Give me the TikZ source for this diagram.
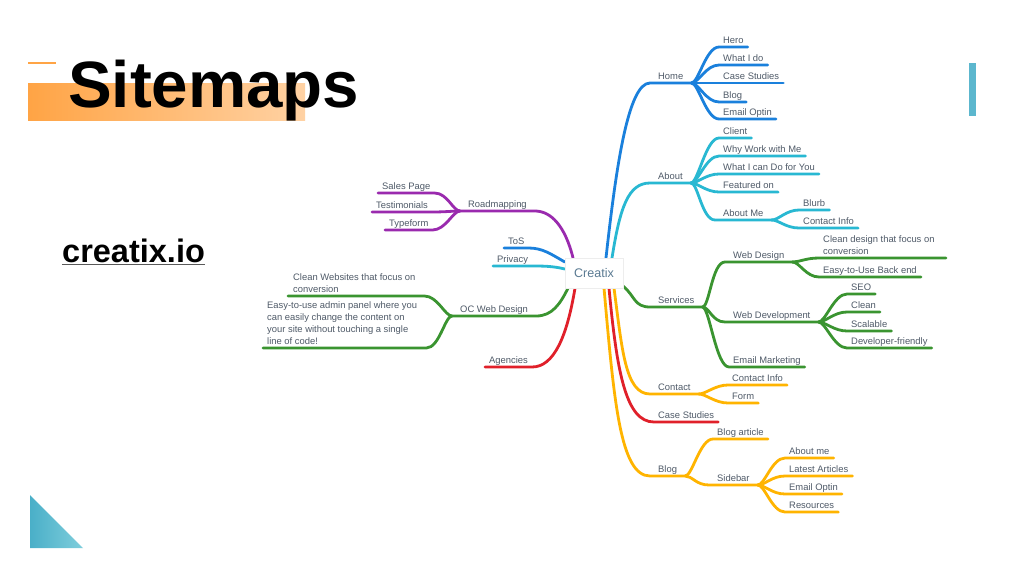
\documentclass[tikz,border=0pt]{standalone}
\usepackage{fontspec}
\setmainfont{Liberation Sans}
\usetikzlibrary{calc}
\definecolor{cblue}{HTML}{1A80DC}
\definecolor{ccyan}{HTML}{28B8D2}
\definecolor{cgreen}{HTML}{3A9430}
\definecolor{cred}{HTML}{E0202A}
\definecolor{corange}{HTML}{FFB400}
\definecolor{cpurple}{HTML}{9A2AAE}
\definecolor{labgray}{HTML}{4F5A68}
\definecolor{rootgray}{HTML}{5A7A92}
\definecolor{barA}{HTML}{FFA445}
\definecolor{barB}{HTML}{FFD2A4}
\definecolor{tealA}{HTML}{4AAFC8}
\definecolor{tealB}{HTML}{7FCEDC}
\tikzset{
  lbl/.style={font=\fontsize{9.4}{12}\selectfont, text=labgray, inner ysep=3pt, text depth=0pt, align=left},
  leaf/.style={lbl, anchor=south west, inner xsep=4pt, xshift=-4pt},
  mid/.style={lbl, anchor=south west, inner xsep=8pt, xshift=-8pt},
  conn/.style={line width=2.8pt, line cap=round},
  fanr/.style={to path={.. controls ($(\tikztostart)+(7,0)$) and ($(\tikztotarget)+(-13,0)$) .. (\tikztotarget)}},
  fanl/.style={to path={.. controls ($(\tikztostart)+(-7,0)$) and ($(\tikztotarget)+(13,0)$) .. (\tikztotarget)}},
  rootbox/.style={draw=black!7, fill=white, minimum width=58pt, minimum height=30pt, inner sep=0pt, font=\fontsize{12.5}{14}\selectfont, text=rootgray}
}
\begin{document}
\begin{tikzpicture}[x=1pt,y=-1pt]
\useasboundingbox (0,0) rectangle (1024,576);
\fill[white] (0,0) rectangle (1024,576);
% decorations
\shade[left color=barA, right color=barB] (28,83) rectangle (305,120);
\draw[barA, line width=2.5pt] (28,63) -- (56,63);
\node[anchor=base west, inner sep=0pt, font=\fontsize{65.5}{70}\selectfont\bfseries] (title) at (68,107) {Sitemaps};
\fill[tealA!90] (969,63) rectangle (976,116);
\shade[left color=tealA, right color=tealB] (30,495) -- (30,548) -- (83,548) -- cycle;
\node[anchor=base west, inner sep=0pt, font=\fontsize{32.5}{36}\selectfont\bfseries] (cio) at (62,262) {creatix.io};
\draw[black!65, line width=1.2pt] ([yshift=-2.5pt]cio.base west) -- ([yshift=-2.5pt]cio.base east);

% root
\node[rootbox] (root) at (594,273) {Creatix};

% ---------- Home ----------
\node[mid] (home) at (658,83) {Home};
\draw[conn, cblue] ([xshift=12pt]root.north) .. controls +(10,-90) and +(-22,0) .. (home.south west) -- (home.south east);
\foreach \n/\t/\y in {hero/Hero/47, whatido/What I do/65, casest/Case Studies/83, blog1/Blog/102, email1/Email Optin/119}{
  \node[leaf] (\n) at (723,\y) {\t};
  \draw[conn, cblue] (home.south east) to[fanr] (\n.south west) -- (\n.south east);
}
% ---------- About ----------
\node[mid] (about) at (658,183) {About};
\draw[conn, ccyan] ([xshift=18pt]root.north) .. controls +(8,-50) and +(-22,0) .. (about.south west) -- (about.south east);
\foreach \n/\t/\y in {client/Client/138, whywork/Why Work with Me/156, whatcan/What I can Do for You/174, featured/Featured on/192}{
  \node[leaf] (\n) at (723,\y) {\t};
  \draw[conn, ccyan] (about.south east) to[fanr] (\n.south west) -- (\n.south east);
}
\node[mid] (aboutme) at (723,220) {About Me};
\draw[conn, ccyan] (about.south east) to[fanr] (aboutme.south west) -- (aboutme.south east);
\foreach \n/\t/\y in {blurb/Blurb/210, contactinfo1/Contact Info/228}{
  \node[leaf] (\n) at (803,\y) {\t};
  \draw[conn, ccyan] (aboutme.south east) to[fanr] (\n.south west) -- (\n.south east);
}
% ---------- Services ----------
\node[mid] (services) at (658,307) {Services};
\draw[conn, cgreen] ([yshift=2pt]root.south east) .. controls +(12,10) and +(-16,0) .. (services.south west) -- (services.south east);
\node[mid] (webdesign) at (733,262) {Web Design};
\draw[conn, cgreen] (services.south east) to[fanr] (webdesign.south west) -- (webdesign.south east);
\node[leaf] (cleandesign) at (823,258) {Clean design that focus on\\conversion};
\draw[conn, cgreen] (webdesign.south east) to[fanr] (cleandesign.south west) -- ([xshift=2pt]cleandesign.south east -| 944,0);
\node[leaf] (easyback) at (823,277) {Easy-to-Use Back end};
\draw[conn, cgreen] (webdesign.south east) to[fanr] (easyback.south west) -- (easyback.south east);
\node[mid] (webdev) at (733,322) {Web Development};
\draw[conn, cgreen] (services.south east) to[fanr] (webdev.south west) -- (webdev.south east);
\foreach \n/\t/\y in {seo/SEO/294, clean/Clean/312, scalable/Scalable/331, devfriendly/Developer-friendly/348}{
  \node[leaf] (\n) at (851,\y) {\t};
  \draw[conn, cgreen] (webdev.south east) to[fanr] (\n.south west) -- (\n.south east);
}
\node[leaf] (emailmkt) at (733,367) {Email Marketing};
\draw[conn, cgreen] (services.south east) to[fanr] (emailmkt.south west) -- (emailmkt.south east);
% ---------- Contact ----------
\node[mid] (contact) at (658,394) {Contact};
\draw[conn, corange] ([xshift=20pt]root.south) .. controls +(8,60) and +(-25,0) .. (contact.south west) -- (contact.south east);
\foreach \n/\t/\y in {contactinfo2/Contact Info/385, form/Form/403}{
  \node[leaf] (\n) at (732,\y) {\t};
  \draw[conn, corange] (contact.south east) to[fanr] (\n.south west) -- (\n.south east);
}
% ---------- Case Studies ----------
\node[leaf] (casestudies) at (658,422) {Case Studies};
\draw[conn, cred] ([xshift=15pt]root.south) .. controls +(8,85) and +(-28,0) .. (casestudies.south west) -- (casestudies.south east);
% ---------- Blog ----------
\node[mid] (blog) at (658,476) {Blog};
\draw[conn, corange] ([xshift=10pt]root.south) .. controls +(10,112) and +(-30,0) .. (blog.south west) -- (blog.south east);
\node[leaf] (blogarticle) at (717,439) {Blog article};
\draw[conn, corange] (blog.south east) to[fanr] (blogarticle.south west) -- (blogarticle.south east);
\node[mid] (sidebar) at (717,485) {Sidebar};
\draw[conn, corange] (blog.south east) to[fanr] (sidebar.south west) -- (sidebar.south east);
\foreach \n/\t/\y in {aboutme2/About me/458, latest/Latest Articles/476, email2/Email Optin/494, resources/Resources/512}{
  \node[leaf] (\n) at (789,\y) {\t};
  \draw[conn, corange] (sidebar.south east) to[fanr] (\n.south west) -- (\n.south east);
}
% ---------- Roadmapping ----------
\node[mid] (roadmap) at (468,211) {Roadmapping};
\draw[conn, cpurple] ([xshift=-21pt]root.north) .. controls +(-8,-32) and +(16,0) .. (roadmap.south east) -- (roadmap.south west);
\foreach \n/\t/\x/\y in {salespage/Sales Page/382/193, testimonials/Testimonials/376/212, typeform/Typeform/389/230}{
  \node[leaf] (\n) at (\x,\y) {\t};
  \draw[conn, cpurple] (roadmap.south west) to[fanl] (\n.south east) -- (\n.south west);
}
% ---------- ToS / Privacy ----------
\node[leaf] (tos) at (508,248) {ToS};
\draw[conn, cblue] ([yshift=11pt]root.west) .. controls +(-14,-8) and +(14,0) .. (tos.south east) -- (tos.south west);
\node[leaf] (privacy) at (497,266) {Privacy};
\draw[conn, ccyan] ([yshift=4pt]root.west) .. controls +(-12,-3) and +(10,0) .. (privacy.south east) -- (privacy.south west);
% ---------- OC Web Design ----------
\node[mid] (ocweb) at (460,316) {OC Web Design};
\draw[conn, cgreen] ([xshift=-26pt]root.south) .. controls +(-8,16) and +(16,0) .. (ocweb.south east) -- (ocweb.south west);
\node[leaf] (cleanweb) at (293,296) {Clean Websites that focus on\\conversion};
\draw[conn, cgreen] (ocweb.south west) to[fanl] ([xshift=5pt]cleanweb.south east) -- ([xshift=-1pt]cleanweb.south west);
\node[leaf] (easyuse) at (267,348) {Easy-to-use admin panel where you\\can easily change the content on\\your site without touching a single\\line of code!};
\draw[conn, cgreen] (ocweb.south west) to[fanl] ([xshift=5pt]easyuse.south east) -- (easyuse.south west);
% ---------- Agencies ----------
\node[leaf] (agencies) at (489,367) {Agencies};
\draw[conn, cred] ([xshift=-19pt]root.south) .. controls +(-8,48) and +(22,0) .. (agencies.south east) -- (agencies.south west);

% root on top
\node[rootbox] at (root) {Creatix};
\end{tikzpicture}
\end{document}
